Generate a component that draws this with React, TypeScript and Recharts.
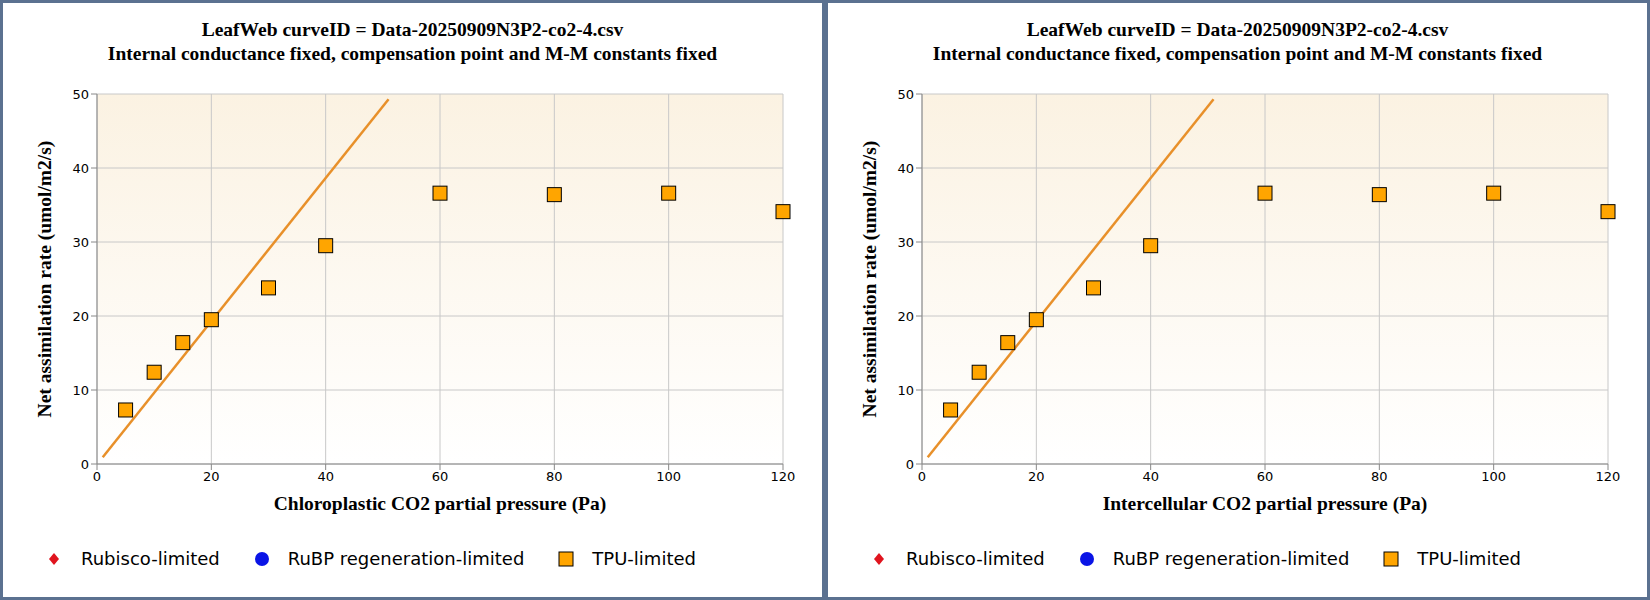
import React from "react"
import { ComposedChart, Line, Scatter, XAxis, YAxis, CartesianGrid } from "recharts"

const tpuPoints = [
  { x: 5, y: 7.3 },
  { x: 10, y: 12.4 },
  { x: 15, y: 16.4 },
  { x: 20, y: 19.5 },
  { x: 30, y: 23.8 },
  { x: 40, y: 29.5 },
  { x: 60, y: 36.6 },
  { x: 80, y: 36.4 },
  { x: 100, y: 36.6 },
  { x: 120, y: 34.1 },
]
const rubiscoLine = [
  { x: 1, y: 0.9 },
  { x: 51, y: 49.3 },
]
const xTicks = [0, 20, 40, 60, 80, 100, 120]
const yTicks = [0, 10, 20, 30, 40, 50]
const titleLines = [
  "LeafWeb curveID = Data-20250909N3P2-co2-4.csv",
  "Internal conductance fixed, compensation point and M-M constants fixed",
]
const xLabels = ["Chloroplastic CO2 partial pressure (Pa)", "Intercellular CO2 partial pressure (Pa)"]
const yLabel = "Net assimilation rate (umol/m2/s)"

const serif = "'Liberation Serif', 'Times New Roman', serif"
const sans = "'DejaVu Sans', Tahoma, sans-serif"

function Square(props: any) {
  const { cx, cy } = props
  if (cx == null || cy == null) return null
  return <rect x={cx - 7} y={cy - 7} width={14} height={14} fill="#FFA500" stroke="#000" strokeWidth={1} />
}

function Panel({ xLabel }: { xLabel: string }) {
  const tick = { fill: "#000", fontSize: 13, fontFamily: sans }
  return (
    <div style={{ position: "relative", width: 819, height: 594, border: "3px solid #5b7190", background: "#fff" }}>
      <div style={{ position: "absolute", top: 15, left: 0, width: 819, textAlign: "center", fontFamily: serif, fontWeight: "bold", fontSize: 19.5, lineHeight: "24px" }}>
        {titleLines.map((t) => (
          <div key={t}>{t}</div>
        ))}
      </div>
      <div style={{ position: "absolute", left: 94, top: 91, width: 686, height: 370, background: "linear-gradient(#fbf2e2, #ffffff)" }} />
      <div style={{ position: "absolute", left: 0, top: 0 }}>
        <ComposedChart width={819} height={500} margin={{ top: 91, right: 39, bottom: 9, left: 44 }}>
          <CartesianGrid stroke="#c8c8c8" />
          <XAxis type="number" dataKey="x" domain={[0, 120]} ticks={xTicks} tick={tick} stroke="#888" height={30} />
          <YAxis type="number" dataKey="y" domain={[0, 50]} ticks={yTicks} tick={tick} stroke="#888" width={50} />
          <Line data={rubiscoLine} dataKey="y" stroke="#e8902a" strokeWidth={2.5} dot={false} isAnimationActive={false} />
          <Scatter data={tpuPoints} dataKey="y" shape={<Square />} isAnimationActive={false} />
        </ComposedChart>
      </div>
      <div style={{ position: "absolute", top: 490, left: 94, width: 686, textAlign: "center", fontFamily: serif, fontWeight: "bold", fontSize: 19.5 }}>
        {xLabel}
      </div>
      <div style={{ position: "absolute", left: 42, top: 276, transform: "translate(-50%, -50%) rotate(-90deg)", whiteSpace: "nowrap", fontFamily: serif, fontWeight: "bold", fontSize: 19.5 }}>
        {yLabel}
      </div>
      <div style={{ position: "absolute", top: 545, left: 44, display: "flex", alignItems: "center", fontFamily: sans, fontSize: 18 }}>
        <svg width={14} height={14}><polygon points="7,1 12,7 7,13 2,7" fill="#e0141e" /></svg>
        <span style={{ marginLeft: 20, marginRight: 34 }}>Rubisco-limited</span>
        <svg width={16} height={16}><circle cx={8} cy={8} r={7} fill="#0a14e6" /></svg>
        <span style={{ marginLeft: 18, marginRight: 34 }}>RuBP regeneration-limited</span>
        <svg width={16} height={16}><rect x={1} y={1} width={14} height={14} fill="#FFA500" stroke="#000" /></svg>
        <span style={{ marginLeft: 18 }}>TPU-limited</span>
      </div>
    </div>
  )
}

export default function App() {
  return (
    <div style={{ position: "absolute", left: 0, top: 0, width: 1650, height: 600, display: "flex", background: "#fff" }}>
      {xLabels.map((l) => (
        <Panel key={l} xLabel={l} />
      ))}
    </div>
  )
}
